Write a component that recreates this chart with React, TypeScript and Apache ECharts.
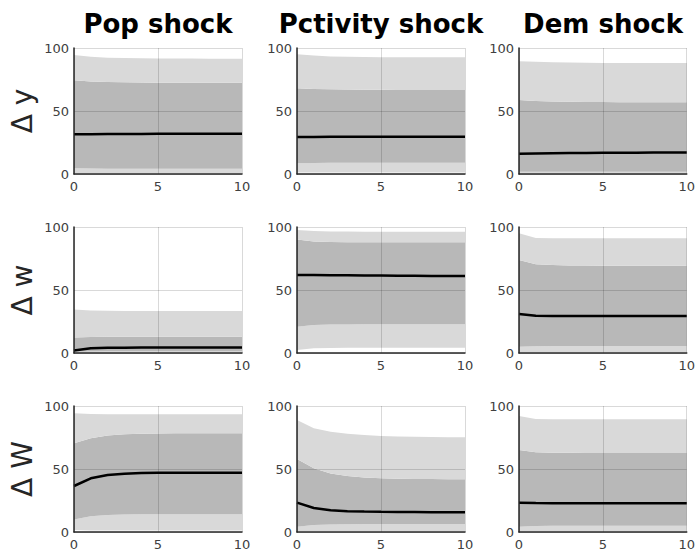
import React, { useEffect, useRef } from "react";
import * as echarts from "echarts";

const steps = ["0", "1", "2", "3", "4", "5", "6", "7", "8", "9", "10"];
const shockTitles = ["Pop shock", "Pctivity shock", "Dem shock"];
const rowLabels = ["\u0394 y", "\u0394 w", "\u0394 W"];

// Row 1: Δ y
const yPopOuterLo = [0.5, 0.5, 0.5, 0.5, 0.5, 0.5, 0.5, 0.5, 0.5, 0.5, 0.5];
const yPopInnerLo = [4.5, 4.3, 4.2, 4.2, 4.2, 4.2, 4.2, 4.2, 4.2, 4.2, 4.2];
const yPopMedian = [31.5, 31.6, 31.7, 31.8, 31.8, 31.9, 31.9, 31.9, 31.9, 31.9, 31.9];
const yPopInnerHi = [74.5, 73.5, 73, 72.8, 72.6, 72.5, 72.5, 72.4, 72.4, 72.4, 72.4];
const yPopOuterHi = [94.5, 93, 92.3, 92, 91.8, 91.7, 91.6, 91.6, 91.5, 91.5, 91.5];

const yPctOuterLo = [1.2, 1.2, 1.2, 1.2, 1.2, 1.2, 1.2, 1.2, 1.2, 1.2, 1.2];
const yPctInnerLo = [8.5, 8.8, 9, 9, 9, 9, 9, 9, 9, 9, 9];
const yPctMedian = [29.3, 29.4, 29.5, 29.5, 29.5, 29.5, 29.5, 29.5, 29.5, 29.5, 29.5];
const yPctInnerHi = [68, 67.5, 67.2, 67, 66.9, 66.8, 66.7, 66.7, 66.7, 66.7, 66.7];
const yPctOuterHi = [95, 94, 93.3, 93, 92.8, 92.7, 92.6, 92.6, 92.6, 92.6, 92.6];

const yDemOuterLo = [0.3, 0.3, 0.3, 0.3, 0.3, 0.3, 0.3, 0.3, 0.3, 0.3, 0.3];
const yDemInnerLo = [1.8, 1.8, 1.8, 1.8, 1.8, 1.8, 1.8, 1.8, 1.8, 1.8, 1.8];
const yDemMedian = [16, 16.3, 16.5, 16.6, 16.7, 16.8, 16.9, 16.9, 17, 17, 17];
const yDemInnerHi = [58.7, 58, 57.6, 57.4, 57.2, 57.1, 57, 57, 57, 57, 57];
const yDemOuterHi = [89.5, 89, 88.6, 88.4, 88.2, 88.1, 88, 88, 88, 88, 88];

// Row 2: Δ w
const wPopOuterLo = [0.3, 0.3, 0.3, 0.3, 0.3, 0.3, 0.3, 0.3, 0.3, 0.3, 0.3];
const wPopInnerLo = [1.0, 1.2, 1.3, 1.3, 1.3, 1.3, 1.3, 1.3, 1.3, 1.3, 1.3];
const wPopMedian = [2, 3.8, 4.1, 4.2, 4.3, 4.3, 4.3, 4.3, 4.3, 4.3, 4.3];
const wPopInnerHi = [12.3, 12.6, 12.8, 12.9, 12.9, 12.9, 12.9, 12.9, 12.9, 12.9, 12.9];
const wPopOuterHi = [34.5, 33.8, 33.5, 33.4, 33.3, 33.3, 33.3, 33.3, 33.3, 33.3, 33.3];

const wPctOuterLo = [2.4, 3.8, 4, 4.1, 4.2, 4.2, 4.2, 4.2, 4.2, 4.2, 4.2];
const wPctInnerLo = [20.9, 22.3, 22.6, 22.7, 22.8, 22.8, 22.8, 22.8, 22.8, 22.8, 22.8];
const wPctMedian = [62, 62, 61.8, 61.7, 61.6, 61.5, 61.4, 61.3, 61.2, 61.2, 61.1];
const wPctInnerHi = [90, 88.5, 88.1, 87.9, 87.8, 87.8, 87.8, 87.8, 87.8, 87.8, 87.8];
const wPctOuterHi = [97.6, 96.8, 96.5, 96.4, 96.3, 96.3, 96.3, 96.3, 96.3, 96.3, 96.3];

const wDemOuterLo = [0.5, 0.5, 0.5, 0.5, 0.5, 0.5, 0.5, 0.5, 0.5, 0.5, 0.5];
const wDemInnerLo = [5, 5.4, 5.5, 5.5, 5.5, 5.5, 5.5, 5.5, 5.5, 5.5, 5.5];
const wDemMedian = [31, 29.5, 29.4, 29.4, 29.4, 29.4, 29.4, 29.4, 29.4, 29.4, 29.4];
const wDemInnerHi = [73.8, 70.5, 69.8, 69.5, 69.4, 69.3, 69.3, 69.3, 69.3, 69.3, 69.3];
const wDemOuterHi = [95, 91.2, 91, 91, 91, 91, 91, 91, 91, 91, 91];

// Row 3: Δ W
const WPopOuterLo = [1.5, 1.2, 1.2, 1.2, 1.2, 1.2, 1.2, 1.2, 1.2, 1.2, 1.2];
const WPopInnerLo = [10, 12.5, 13.4, 13.8, 14, 14, 14, 14, 14, 14, 14];
const WPopMedian = [36.5, 42.6, 45.2, 46.3, 46.8, 47, 47.1, 47.1, 47.1, 47.1, 47.1];
const WPopInnerHi = [70.4, 74.4, 76.5, 77.5, 78, 78.2, 78.3, 78.3, 78.3, 78.3, 78.3];
const WPopOuterHi = [94.2, 93.6, 93.4, 93.4, 93.4, 93.4, 93.4, 93.4, 93.4, 93.4, 93.4];

const WPctOuterLo = [0.8, 0.8, 0.8, 0.8, 0.8, 0.8, 0.8, 0.8, 0.8, 0.8, 0.8];
const WPctInnerLo = [4.2, 5.5, 6, 6.2, 6.3, 6.3, 6.3, 6.3, 6.3, 6.3, 6.3];
const WPctMedian = [23.3, 19, 17.2, 16.5, 16.2, 16, 15.9, 15.8, 15.7, 15.6, 15.6];
const WPctInnerHi = [57.9, 50.5, 46.5, 44.5, 43.3, 42.6, 42.3, 42.1, 42, 41.9, 41.8];
const WPctOuterHi = [88.9, 82.3, 79.6, 78, 77, 76.2, 75.8, 75.5, 75.3, 75.2, 75.1];

const WDemOuterLo = [0.5, 0.5, 0.5, 0.5, 0.5, 0.5, 0.5, 0.5, 0.5, 0.5, 0.5];
const WDemInnerLo = [4.2, 4.8, 5, 5, 5, 5, 5, 5, 5, 5, 5];
const WDemMedian = [23.3, 23, 22.9, 22.8, 22.8, 22.8, 22.8, 22.8, 22.8, 22.8, 22.8];
const WDemInnerHi = [65, 63.2, 62.9, 62.8, 62.7, 62.7, 62.7, 62.7, 62.7, 62.7, 62.7];
const WDemOuterHi = [92, 89.7, 89.5, 89.5, 89.5, 89.5, 89.5, 89.5, 89.5, 89.5, 89.5];

const panels = [
  [yPopOuterLo, yPopInnerLo, yPopMedian, yPopInnerHi, yPopOuterHi],
  [yPctOuterLo, yPctInnerLo, yPctMedian, yPctInnerHi, yPctOuterHi],
  [yDemOuterLo, yDemInnerLo, yDemMedian, yDemInnerHi, yDemOuterHi],
  [wPopOuterLo, wPopInnerLo, wPopMedian, wPopInnerHi, wPopOuterHi],
  [wPctOuterLo, wPctInnerLo, wPctMedian, wPctInnerHi, wPctOuterHi],
  [wDemOuterLo, wDemInnerLo, wDemMedian, wDemInnerHi, wDemOuterHi],
  [WPopOuterLo, WPopInnerLo, WPopMedian, WPopInnerHi, WPopOuterHi],
  [WPctOuterLo, WPctInnerLo, WPctMedian, WPctInnerHi, WPctOuterHi],
  [WDemOuterLo, WDemInnerLo, WDemMedian, WDemInnerHi, WDemOuterHi],
];

const colLefts = [74, 297, 519];
const rowTops = [48, 227, 406];
const plotW = 168;
const plotH = 126;
const LIGHT = "#d9d9d9";
const DARK = "#b8b8b8";
const FONT = "DejaVu Sans";

export default function App() {
  const ref = useRef<HTMLDivElement>(null);
  useEffect(() => {
    if (!ref.current) return;
    const chart = echarts.init(ref.current, undefined, { renderer: "svg" });
    const grids: any[] = [];
    const xAxes: any[] = [];
    const yAxes: any[] = [];
    const series: any[] = [];
    panels.forEach((p, i) => {
      const r = Math.floor(i / 3);
      const c = i % 3;
      grids.push({ left: colLefts[c], top: rowTops[r], width: plotW, height: plotH });
      xAxes.push({
        gridIndex: i, type: "category", data: steps, boundaryGap: false, z: 5,
        axisLine: { show: true, onZero: false, lineStyle: { color: "#262626", width: 1.5 } },
        axisTick: { show: false },
        axisLabel: { color: "#404040", fontSize: 13, fontFamily: FONT, margin: 6, interval: 4 },
        splitLine: { show: true, interval: 4, lineStyle: { color: "rgba(0,0,0,0.15)", width: 1 } },
      });
      yAxes.push({
        gridIndex: i, type: "value", min: 0, max: 100, interval: 50, z: 5,
        axisLine: { show: true, onZero: false, lineStyle: { color: "#262626", width: 1.5 } },
        axisTick: { show: false },
        axisLabel: { color: "#404040", fontSize: 13, fontFamily: FONT, margin: 5 },
        splitLine: { show: true, lineStyle: { color: "rgba(0,0,0,0.15)", width: 1 } },
      });
      const [oLo, iLo, med, iHi, oHi] = p;
      const stack = "band" + i;
      const base = {
        type: "line", xAxisIndex: i, yAxisIndex: i, stack, symbol: "none",
        lineStyle: { width: 0, opacity: 0 }, silent: true, z: 1,
      };
      series.push({ ...base, data: oLo });
      series.push({ ...base, areaStyle: { color: LIGHT, opacity: 1 }, data: iLo.map((v, k) => v - oLo[k]) });
      series.push({ ...base, areaStyle: { color: DARK, opacity: 1 }, data: iHi.map((v, k) => v - iLo[k]) });
      series.push({ ...base, areaStyle: { color: LIGHT, opacity: 1 }, data: oHi.map((v, k) => v - iHi[k]) });
      series.push({
        type: "line", xAxisIndex: i, yAxisIndex: i, symbol: "none", z: 3,
        lineStyle: { color: "#000", width: 2.5 },
        data: med,
      });
    });
    const graphics: any[] = [];
    shockTitles.forEach((t, c) => {
      graphics.push({
        type: "text", x: colLefts[c] + plotW / 2, y: 24,
        style: { text: t, font: `bold 26px "${FONT}"`, fill: "#000", textAlign: "center", textVerticalAlign: "middle" },
      });
    });
    rowLabels.forEach((t, r) => {
      graphics.push({
        type: "text", x: 22, y: rowTops[r] + plotH / 2, rotation: Math.PI / 2,
        style: { text: t, font: `28px "${FONT}"`, fill: "#262626", textAlign: "center", textVerticalAlign: "middle" },
      });
    });
    chart.setOption({
      animation: false,
      grid: grids,
      xAxis: xAxes,
      yAxis: yAxes,
      series,
      graphic: graphics,
    });
    return () => chart.dispose();
  }, []);
  return <div ref={ref} style={{ position: "fixed", left: 0, top: 0, width: 698, height: 554, background: "#fff" }} />;
}
